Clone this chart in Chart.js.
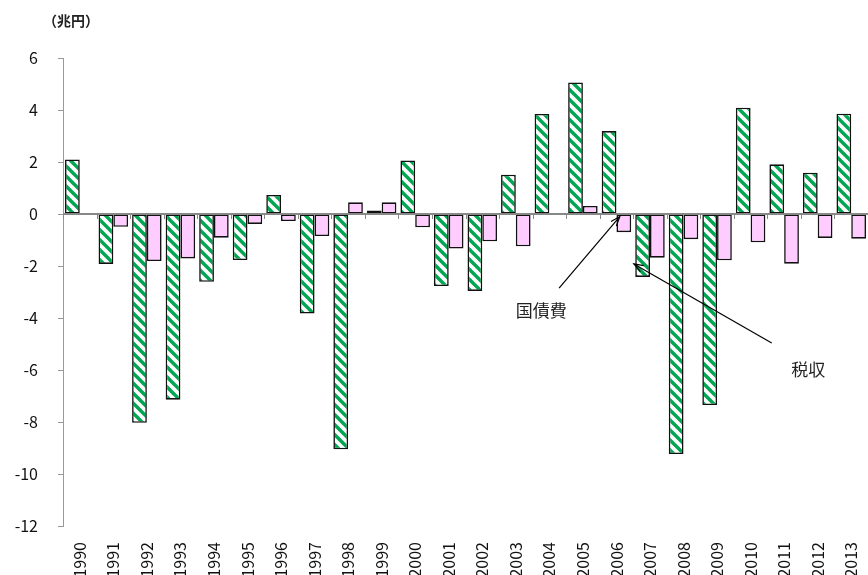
<!DOCTYPE html>
<html>
<head>
<meta charset="utf-8">
<script src="https://cdn.jsdelivr.net/npm/chart.js@4/dist/chart.umd.min.js"></script>
<style>
  html, body { margin: 0; padding: 0; background: #fff; }
  #wrap { width: 868px; height: 575px; position: relative; }
</style>
</head>
<body>
<div id="wrap"><canvas id="myChart" width="868" height="575"></canvas></div>
<script>
// 年度
const years = ['1990', '1991', '1992', '1993', '1994', '1995', '1996', '1997', '1998', '1999',
  '2000', '2001', '2002', '2003', '2004', '2005', '2006', '2007', '2008', '2009',
  '2010', '2011', '2012', '2013']

// 税収（兆円）
const taxRevenue = [2.1, -1.92, -8.03, -7.14, -2.61, -1.77, 0.73, -3.83, -9.05, 0.13,
  2.06, -2.77, -2.96, 1.51, 3.85, 5.06, 3.19, -2.42, -9.23, -7.35,
  4.09, 1.91, 1.59, 3.86]

// 国債費（兆円）
const debtService = [0.02, -0.49, -1.81, -1.71, -0.91, -0.38, -0.27, -0.85, 0.45, 0.45,
  -0.51, -1.33, -1.05, -1.24, -0.04, 0.31, -0.7, -1.68, -0.97, -1.78,
  -1.09, -1.91, -0.92, -0.95]

const yTicks = [6, 4, 2, 0, -2, -4, -6, -8, -10, -12]
const unitLabel = '（兆円）'

// 吹き出し（x はカテゴリ位置、y は値）
const callouts = [
  { text: '国債費', labelX: 13.76, labelY: -3.7, fromX: 14.29, fromY: -2.85, toX: 16.1, toY: -0.1 },
  { text: '税収', labelX: 21.72, labelY: -6.0, fromX: 20.63, fromY: -4.96, toX: 16.52, toY: -1.92 }
]

const FONT = '"Noto Sans CJK JP", "Noto Sans", sans-serif'

// green diagonal hatch
const makeHatch = () => {
  const c = document.createElement('canvas')
  c.width = 10
  c.height = 10
  const g = c.getContext('2d')
  g.fillStyle = '#fff'
  g.fillRect(0, 0, 10, 10)
  g.strokeStyle = '#00a651'
  g.lineWidth = 3.4
  for (const off of [-10, 0, 10]) {
    g.beginPath()
    g.moveTo(off - 1, -1)
    g.lineTo(off + 11, 11)
    g.stroke()
  }
  return g.createPattern(c, 'repeat')
}

const axisExtras = {
  id: 'axisExtras',
  afterDatasetsDraw(chart) {
    const { ctx, chartArea, scales } = chart
    const y0 = scales.y.getPixelForValue(0)
    const n = years.length
    const w = (chartArea.right - chartArea.left) / n
    ctx.save()
    ctx.strokeStyle = '#888'
    ctx.lineWidth = 2
    ctx.beginPath()
    ctx.moveTo(chartArea.left, y0)
    ctx.lineTo(chartArea.right, y0)
    ctx.stroke()
    ctx.lineWidth = 1
    for (let i = 0; i <= n; i++) {
      const x = Math.round(chartArea.left + i * w) + 0.5
      ctx.beginPath()
      ctx.moveTo(x, y0)
      ctx.lineTo(x, y0 + 5)
      ctx.stroke()
    }
    ctx.restore()
  },
  afterDraw(chart) {
    const { ctx, scales } = chart
    const px = (v) => scales.x.getPixelForValue(0) + v * (scales.x.getPixelForValue(1) - scales.x.getPixelForValue(0))
    ctx.save()
    ctx.fillStyle = '#222'
    ctx.font = 'bold 14px ' + FONT
    ctx.textAlign = 'center'
    ctx.textBaseline = 'middle'
    ctx.fillText(unitLabel, 71, 21)

    ctx.font = '17px ' + FONT
    ctx.strokeStyle = '#000'
    ctx.lineWidth = 1.2
    callouts.forEach(c => {
      const x1 = px(c.fromX), y1 = scales.y.getPixelForValue(c.fromY)
      const x2 = px(c.toX), y2 = scales.y.getPixelForValue(c.toY)
      ctx.beginPath()
      ctx.moveTo(x1, y1)
      ctx.lineTo(x2, y2)
      ctx.stroke()
      const a = Math.atan2(y2 - y1, x2 - x1)
      const h = 10
      ctx.beginPath()
      ctx.moveTo(x2 - h * Math.cos(a - 0.35), y2 - h * Math.sin(a - 0.35))
      ctx.lineTo(x2, y2)
      ctx.lineTo(x2 - h * Math.cos(a + 0.35), y2 - h * Math.sin(a + 0.35))
      ctx.stroke()
      ctx.fillText(c.text, px(c.labelX), scales.y.getPixelForValue(c.labelY))
    })
    ctx.restore()
  }
}

const chartInstance = new Chart(document.getElementById('myChart'), {
  type: 'bar',
  data: {
    labels: years,
    datasets: [
      {
        label: '税収',
        data: taxRevenue,
        backgroundColor: makeHatch(),
        borderColor: '#111',
        borderWidth: 1.6,
        borderSkipped: false,
        categoryPercentage: 0.88,
        barPercentage: 1.0,
      },
      {
        label: '国債費',
        data: debtService,
        backgroundColor: '#ffccff',
        borderColor: '#111',
        borderWidth: 1.6,
        borderSkipped: false,
        categoryPercentage: 0.88,
        barPercentage: 1.0,
      }
    ]
  },
  options: {
    responsive: false,
    animation: false,
    layout: { padding: { top: 58, right: -1, left: 0, bottom: 0 } },
    plugins: {
      legend: { display: false },
      tooltip: { enabled: false },
    },
    scales: {
      x: {
        grid: { display: false },
        border: { display: false },
        ticks: {
          minRotation: 90,
          maxRotation: 90,
          autoSkip: false,
          padding: 8,
          color: '#111',
          font: { family: FONT, size: 16 },
        },
        afterFit: (scale) => {
          scale.height = 49
          scale.paddingRight = 0
          scale.paddingLeft = 0
        },
      },
      y: {
        min: -12,
        max: 6,
        afterBuildTicks: (scale) => { scale.ticks = yTicks.map(v => ({ value: v })) },
        grid: {
          drawOnChartArea: false,
          drawTicks: true,
          tickLength: 5,
          color: '#999',
        },
        border: { color: '#999', width: 1 },
        ticks: {
          padding: 20,
          color: '#111',
          font: { family: FONT, size: 16 },
        },
        afterFit: (scale) => { scale.width = 63 },
      }
    }
  },
  plugins: [axisExtras]
})
</script>
</body>
</html>
